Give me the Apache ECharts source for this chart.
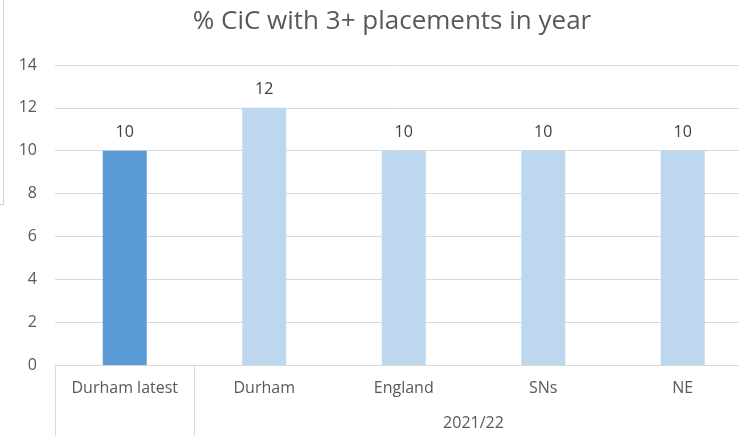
<!DOCTYPE html>
<html>
<head>
<meta charset="utf-8">
<script src="https://cdn.jsdelivr.net/npm/echarts@6/dist/echarts.min.js"></script>
<style>
  html, body { margin: 0; padding: 0; background: #fff; }
  #main { width: 739px; height: 436px; }
</style>
</head>
<body>
<div id="main"></div>
<script>
const categories = ['Durham latest', 'Durham', 'England', 'SNs', 'NE']
const values = [10, 12, 10, 10, 10]
const groupLabel = '2021/22'
const yTicks = { min: 0, max: 14, interval: 2 }

const chartDom = document.getElementById('main')
const myChart = echarts.init(chartDom)

const font = '"Open Sans", Lato, sans-serif'

const option = {
    animation: false,
    backgroundColor: '#fff',
    title: {
        text: '% CiC with 3+ placements in year',
        left: 387,
        textAlign: 'center',
        top: 4,
        textStyle: {
            fontFamily: font,
            fontSize: 26,
            fontWeight: 'normal',
            color: '#595959'
        }
    },
    grid: {
        left: 55,
        top: 65,
        width: 697.5,
        height: 300,
        outerBoundsMode: 'none'
    },
    xAxis: [
        {
            type: 'category',
            data: categories,
            axisLine: { lineStyle: { color: '#d9d9d9', width: 1 } },
            axisTick: { show: false },
            axisLabel: {
                color: '#595959',
                fontFamily: font,
                fontSize: 16,
                margin: 15
            }
        },
        {
            type: 'value',
            position: 'bottom',
            min: 0,
            max: categories.length,
            axisLine: { show: false },
            splitLine: { show: false },
            axisTick: {
                show: true,
                customValues: [0, 1, categories.length],
                length: 72,
                lineStyle: { color: '#d9d9d9', width: 1 }
            },
            axisLabel: {
                customValues: [(1 + categories.length) / 2],
                formatter: () => groupLabel,
                color: '#595959',
                fontFamily: font,
                fontSize: 16,
                margin: 50
            }
        }
    ],
    yAxis: {
        type: 'value',
        min: yTicks.min,
        max: yTicks.max,
        interval: yTicks.interval,
        axisLine: { show: false },
        axisTick: { show: false },
        splitLine: { lineStyle: { color: '#d9d9d9', width: 1 } },
        axisLabel: {
            color: '#595959',
            fontFamily: font,
            fontSize: 16,
            margin: 18
        }
    },
    series: [
        {
            type: 'bar',
            xAxisIndex: 0,
            barWidth: 44,
            data: values.map((v, i) => ({
                value: v,
                itemStyle: { color: i === 0 ? '#5b9bd5' : '#bdd7ee' }
            })),
            label: {
                show: true,
                position: 'top',
                distance: 10,
                color: '#404040',
                fontFamily: font,
                fontSize: 16
            }
        }
    ],
    graphic: [
        {
            type: 'line',
            shape: { x1: 3.5, y1: 0, x2: 3.5, y2: 205 },
            style: { stroke: '#d4d4d4', lineWidth: 1 }
        },
        {
            type: 'line',
            shape: { x1: 0, y1: 204.5, x2: 4, y2: 204.5 },
            style: { stroke: '#d4d4d4', lineWidth: 1 }
        }
    ]
}

myChart.setOption(option)
</script>
</body>
</html>
